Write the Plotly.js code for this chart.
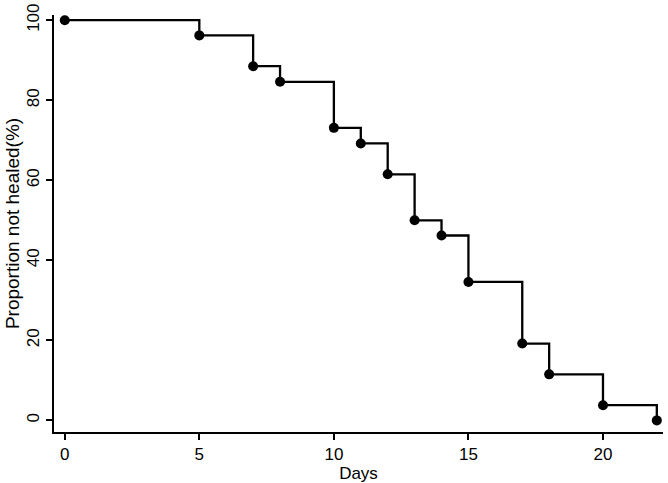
<!DOCTYPE html>
<html>
<head>
<meta charset="utf-8">
<script src="https://cdn.plot.ly/plotly-3.0.1.min.js"></script>
<style>html,body{margin:0;padding:0;background:#fff;}#chart{width:668px;height:483px;}</style>
</head>
<body>
<div id="chart"></div>
<script>
var days = [0, 5, 7, 8, 10, 11, 12, 13, 14, 15, 17, 18, 20, 22];
var notHealed = [100, 96.2, 88.5, 84.6, 73.1, 69.2, 61.5, 50.0, 46.2, 34.6, 19.2, 11.5, 3.8, 0];
var xTicks = [0, 5, 10, 15, 20];
var yTicks = [0, 20, 40, 60, 80, 100];

var font = {family: 'Liberation Sans, Arial, sans-serif', size: 17, color: '#000'};
var yTitleFont = {family: 'Liberation Sans, Arial, sans-serif', size: 19, color: '#000'};

var traces = [
  {x: days, y: notHealed, type: 'scatter', mode: 'lines', line: {shape: 'hv', color: '#000', width: 2.3}, hoverinfo: 'skip'},
  {x: days, y: notHealed, type: 'scatter', mode: 'markers', marker: {color: '#000', size: 10}}
];

var layout = {
  width: 668, height: 483,
  margin: {l: 54, r: 5, t: 15, b: 51},
  paper_bgcolor: '#fff', plot_bgcolor: '#fff',
  showlegend: false,
  font: font,
  xaxis: {
    range: [-0.4, 22.23], tickvals: xTicks, ticktext: xTicks.map(String),
    showgrid: false, zeroline: false, showline: true, linecolor: '#000', linewidth: 2,
    ticks: 'outside', ticklen: 6, tickwidth: 2, tickcolor: '#000',
    tickfont: font,
    title: {text: 'Days', font: font, standoff: 0}
  },
  yaxis: {
    range: [-2.9, 101.3], tickvals: yTicks, ticktext: yTicks.map(String),
    showgrid: false, zeroline: false, showline: true, linecolor: '#000', linewidth: 2,
    ticks: 'outside', ticklen: 6, tickwidth: 2, tickcolor: '#000',
    tickangle: -90, tickfont: font,
    title: {text: 'Proportion not healed(%)', font: yTitleFont, standoff: 0}
  }
};

Plotly.newPlot('chart', traces, layout, {displayModeBar: false, staticPlot: true});
</script>
</body>
</html>
